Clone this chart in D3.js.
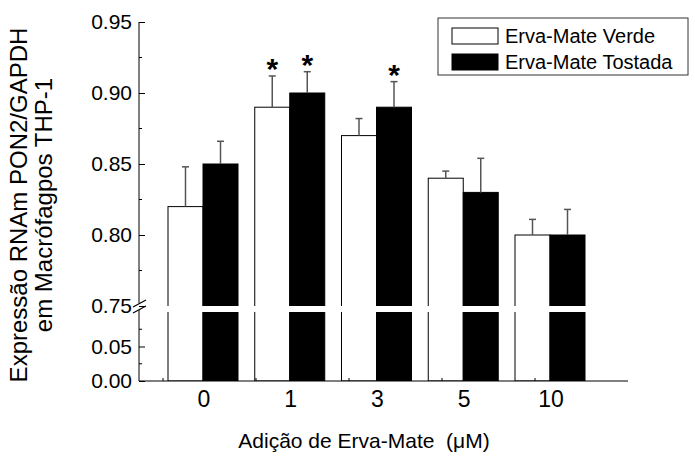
<!DOCTYPE html>
<html>
<head>
<meta charset="utf-8">
<script src="https://cdn.jsdelivr.net/npm/d3@7"></script>
<style>
  body { margin: 0; background: #fff; }
  text { font-family: "Liberation Sans", Arial, sans-serif; fill: #000; }
</style>
</head>
<body>
<div id="chart"></div>
<script>
// data
const doses = ["0", "1", "3", "5", "10"];
const verde = [0.82, 0.89, 0.87, 0.84, 0.80];
const verdeErr = [0.028, 0.022, 0.012, 0.005, 0.011];
const tostada = [0.85, 0.90, 0.89, 0.83, 0.80];
const tostadaErr = [0.016, 0.015, 0.018, 0.024, 0.018];
const verdeSig = [false, true, false, false, false];
const tostadaSig = [false, true, true, false, false];
const upperTicks = [0.75, 0.80, 0.85, 0.90, 0.95];
const lowerTicks = [0.00, 0.05];

const width = 695, height = 462;
const svg = d3.select("#chart").append("svg")
    .attr("width", width)
    .attr("height", height);

// two y segments with a break between them
const yUp = d3.scaleLinear().domain([0.75, 0.95]).range([306, 22]);
const yLow = d3.scaleLinear().domain([0, 0.1]).range([381, 312]);
const x = d3.scalePoint().domain(doses).range([203, 550]);
const barW = 35;
const axisX = 139;

// clip the bars at the break so no edge is drawn there
const defs = svg.append("defs");
defs.append("clipPath").attr("id", "clipUp")
  .append("rect").attr("x", 0).attr("y", 0).attr("width", width).attr("height", yUp(0.75));
defs.append("clipPath").attr("id", "clipLow")
  .append("rect").attr("x", 0).attr("y", yLow(0.1)).attr("width", width).attr("height", yLow(0) - yLow(0.1));

const series = [
  { vals: verde, err: verdeErr, sig: verdeSig, fill: "#fff", off: -barW },
  { vals: tostada, err: tostadaErr, sig: tostadaSig, fill: "#000", off: 0 }
];

series.forEach(s => {
  const g = svg.append("g");
  // upper part of the bars
  g.append("g").attr("clip-path", "url(#clipUp)")
    .selectAll("rect")
      .data(s.vals)
      .enter()
      .append("rect")
      .attr("x", (d, i) => x(doses[i]) + s.off)
      .attr("y", d => yUp(d))
      .attr("width", barW)
      .attr("height", d => yUp(0.75) - yUp(d) + 5)
      .attr("fill", s.fill)
      .attr("stroke", "#000");
  // lower part of the bars (0 to 0.1)
  g.append("g").attr("clip-path", "url(#clipLow)")
    .selectAll("rect")
      .data(s.vals)
      .enter()
      .append("rect")
      .attr("x", (d, i) => x(doses[i]) + s.off)
      .attr("y", yLow(0.1) - 5)
      .attr("width", barW)
      .attr("height", yLow(0) - yLow(0.1) + 5)
      .attr("fill", s.fill)
      .attr("stroke", "#000");
  // error bars, upward only
  g.selectAll(".err")
      .data(s.vals)
      .enter()
      .append("line")
      .attr("x1", (d, i) => x(doses[i]) + s.off + barW / 2)
      .attr("x2", (d, i) => x(doses[i]) + s.off + barW / 2)
      .attr("y1", d => yUp(d))
      .attr("y2", (d, i) => yUp(d + s.err[i]))
      .attr("stroke", "#555")
      .attr("stroke-width", 1.5);
  g.selectAll(".cap")
      .data(s.vals)
      .enter()
      .append("line")
      .attr("x1", (d, i) => x(doses[i]) + s.off + barW / 2 - 3.5)
      .attr("x2", (d, i) => x(doses[i]) + s.off + barW / 2 + 3.5)
      .attr("y1", (d, i) => yUp(d + s.err[i]))
      .attr("y2", (d, i) => yUp(d + s.err[i]))
      .attr("stroke", "#555")
      .attr("stroke-width", 1.5);
  // significance asterisks
  g.selectAll(".sig")
      .data(s.vals.map((d, i) => ({ d, i })).filter(o => s.sig[o.i]))
      .enter()
      .append("text")
      .attr("x", o => x(doses[o.i]) + s.off + barW / 2)
      .attr("y", o => yUp(o.d + s.err[o.i]) + 3)
      .attr("text-anchor", "middle")
      .style("font-size", "30px")
      .style("font-weight", "bold")
      .text("*");
});

// y axis, upper segment (ticks inward)
const upAxis = svg.append("g")
    .attr("transform", `translate(${axisX},0)`)
    .call(d3.axisLeft(yUp).tickValues(upperTicks).tickFormat(d3.format(".2f")).tickSize(-6).tickPadding(10));
upAxis.select(".domain").attr("d", `M0,${yUp(0.75) - 3}V${yUp(0.95)}`);
upAxis.selectAll(".tick text").style("font-size", "21px").attr("x", -7);
svg.append("g").selectAll("line")
    .data([0.775, 0.825, 0.875, 0.925])
    .enter()
    .append("line")
    .attr("x1", axisX).attr("x2", axisX + 3)
    .attr("y1", d => yUp(d)).attr("y2", d => yUp(d))
    .attr("stroke", "#000");

// y axis, lower segment
const lowAxis = svg.append("g")
    .attr("transform", `translate(${axisX},0)`)
    .call(d3.axisLeft(yLow).tickValues(lowerTicks).tickFormat(d3.format(".2f")).tickSize(-6).tickPadding(10));
lowAxis.select(".domain").attr("d", `M0,${yLow(0)}V${yLow(0.1) - 2}`);
lowAxis.selectAll(".tick text").style("font-size", "21px").attr("x", -7);
svg.append("g").selectAll("line")
    .data([0.025, 0.075])
    .enter()
    .append("line")
    .attr("x1", axisX).attr("x2", axisX + 3)
    .attr("y1", d => yLow(d)).attr("y2", d => yLow(d))
    .attr("stroke", "#000");
svg.selectAll(".domain, .tick line").attr("stroke", "#000");

// break marks
[0, 6].forEach(dy => {
  svg.append("line")
      .attr("x1", axisX - 6).attr("y1", 307 + dy)
      .attr("x2", axisX + 7).attr("y2", 300 + dy)
      .attr("stroke", "#000")
      .attr("stroke-width", 1.2);
});

// x axis
svg.append("line")
    .attr("x1", axisX).attr("x2", 628)
    .attr("y1", yLow(0)).attr("y2", yLow(0))
    .attr("stroke", "#000");
svg.append("g").selectAll("line")
    .data([163, 256, 349, 442, 535])
    .enter()
    .append("line")
    .attr("x1", d => d).attr("x2", d => d)
    .attr("y1", yLow(0)).attr("y2", yLow(0) - 3)
    .attr("stroke", "#000");
svg.append("g").selectAll("text")
    .data(doses)
    .enter()
    .append("text")
    .attr("x", d => x(d) + 1)
    .attr("y", 407)
    .attr("text-anchor", "middle")
    .style("font-size", "23px")
    .text(d => d);

// axis titles
svg.append("text")
    .attr("x", 364)
    .attr("y", 448)
    .attr("text-anchor", "middle")
    .style("font-size", "21px")
    .style("white-space", "pre")
    .text("Adição de Erva-Mate  (μM)");
const yTitle = svg.append("text")
    .attr("transform", "translate(27,205) rotate(-90)")
    .attr("text-anchor", "middle")
    .style("font-size", "24px");
yTitle.append("tspan").attr("x", 0).attr("y", 0).text("Expressão RNAm PON2/GAPDH");
yTitle.append("tspan").attr("x", 0).attr("y", 25).text("em Macrófagpos THP-1");

// legend
const legend = svg.append("g");
legend.append("rect")
    .attr("x", 438).attr("y", 18)
    .attr("width", 250).attr("height", 57)
    .attr("fill", "#fff")
    .attr("stroke", "#333");
const legendItems = [
  { label: "Erva-Mate Verde", fill: "#fff" },
  { label: "Erva-Mate Tostada", fill: "#000" }
];
legendItems.forEach((it, i) => {
  legend.append("rect")
      .attr("x", 452).attr("y", 28 + i * 26)
      .attr("width", 46).attr("height", 16)
      .attr("fill", it.fill)
      .attr("stroke", "#000");
  legend.append("text")
      .attr("x", 505).attr("y", 43 + i * 26)
      .style("font-size", "20px")
      .text(it.label);
});
</script>
</body>
</html>
